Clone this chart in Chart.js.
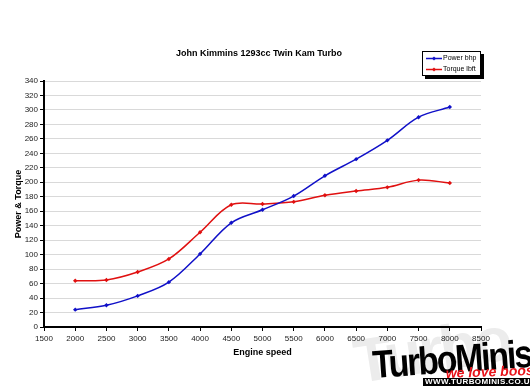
<!DOCTYPE html>
<html>
<head>
<meta charset="utf-8">
<script src="https://cdn.jsdelivr.net/npm/chart.js@4/dist/chart.umd.min.js"></script>
<style>
  html, body { margin: 0; padding: 0; background: #fff; }
  #wrap { position: relative; width: 530px; height: 386px; overflow: hidden; }
  canvas { position: absolute; left: 0; top: 0; }
  .logo { position: absolute; font-family: "Liberation Sans", Arial, sans-serif; white-space: nowrap; transform-origin: left bottom; }
  #ghost { left: 360px; top: 326px; font-size: 62px; font-weight: bold; color: #ececec; letter-spacing: -3px; transform: rotate(-9deg); }
  #brand { left: 374px; top: 345px; font-size: 39px; line-height: 39px; font-weight: bold; color: #000; letter-spacing: -2.5px; transform: rotate(-4deg) scaleX(0.87); }
  #slogan { left: 446px; top: 366px; font-size: 14px; line-height: 14px; font-weight: bold; font-style: italic; color: #e8141b; transform: rotate(-2deg); }
  #url { left: 423px; top: 378px; width: 107px; height: 8px; background: #000; color: #fff; font-size: 8px; font-weight: bold; line-height: 8px; letter-spacing: 0.4px; padding-left: 2px; }
</style>
</head>
<body>
<div id="wrap">
  <div class="logo" id="ghost">Turbo</div>
  <canvas id="chart" width="530" height="386"></canvas>
  <div class="logo" id="brand">TurboMinis</div>
  <div class="logo" id="slogan">we love boost</div>
  <div class="logo" id="url">WWW.TURBOMINIS.CO.UK</div>
</div>
<script>
// Data
const rpm = [2000, 2500, 3000, 3500, 4000, 4500, 5000, 5500, 6000, 6500, 7000, 7500, 8000];
const powerBhp = [24, 30, 43, 62, 101, 144, 162, 181, 209, 232, 258, 290, 304];
const torqueLbft = [64, 65, 76, 94, 131, 169, 170, 173, 182, 188, 193, 203, 199];

const font = '"Liberation Sans", Arial, sans-serif';

function pts(vals){
    return rpm.map((r, i) => ({x: r, y: vals[i]}));
}

// title + legend drawn by hand
const decor = {
    id: 'decor',
    afterDraw(chart){
        const ctx = chart.ctx;
        ctx.save();
        ctx.fillStyle = '#000';
        ctx.font = 'bold 9px ' + font;
        ctx.textAlign = 'center';
        ctx.textBaseline = 'middle';
        ctx.fillText('John Kimmins 1293cc Twin Kam Turbo', 259, 54);

        // legend box
        ctx.fillStyle = '#000';
        ctx.fillRect(425, 54, 59, 25);
        ctx.fillStyle = '#fff';
        ctx.fillRect(422, 51, 59, 25);
        ctx.strokeStyle = '#000';
        ctx.lineWidth = 1;
        ctx.strokeRect(422.5, 51.5, 58, 24);

        const items = [['Power bhp', '#1010c8'], ['Torque lbft', '#e01010']];
        ctx.textAlign = 'left';
        ctx.font = '7px ' + font;
        items.forEach((it, i) => {
            const y = 58.5 + i * 11;
            ctx.strokeStyle = it[1];
            ctx.lineWidth = 1.5;
            ctx.beginPath();
            ctx.moveTo(426, y);
            ctx.lineTo(442, y);
            ctx.stroke();
            ctx.fillStyle = it[1];
            ctx.beginPath();
            ctx.moveTo(434, y - 2); ctx.lineTo(436, y); ctx.lineTo(434, y + 2); ctx.lineTo(432, y);
            ctx.fill();
            ctx.fillStyle = '#000';
            ctx.fillText(it[0], 443, y);
        });
        ctx.restore();
    }
};

new Chart(document.getElementById('chart'), {
    type: 'line',
    data: {
        datasets: [{
            label: 'Power bhp',
            data: pts(powerBhp),
            borderColor: '#1010c8',
            backgroundColor: '#1010c8',
            borderWidth: 1.5,
            tension: 0.35,
            pointStyle: 'rectRot',
            pointRadius: 2.2,
            pointBorderWidth: 0
        }, {
            label: 'Torque lbft',
            data: pts(torqueLbft),
            borderColor: '#e01010',
            backgroundColor: '#e01010',
            borderWidth: 1.5,
            tension: 0.35,
            pointStyle: 'rectRot',
            pointRadius: 2.2,
            pointBorderWidth: 0
        }]
    },
    options: {
        responsive: false,
        animation: false,
        layout: { padding: { top: 81, right: 49, left: 9, bottom: 24 } },
        plugins: {
            legend: { display: false },
            title: { display: false },
            tooltip: { enabled: false }
        },
        scales: {
            x: {
                type: 'linear',
                min: 1500,
                max: 8500,
                ticks: {
                    stepSize: 500, color: '#222', font: { family: font, size: 8 }, padding: 3, maxRotation: 0,
                    callback: v => String(v)
                },
                grid: { drawOnChartArea: false, tickColor: '#000', tickLength: 4 },
                border: { color: '#000', width: 2 },
                title: { display: true, text: 'Engine speed', color: '#000', font: { family: font, size: 9, weight: 'bold' }, padding: { top: 4 } },
                afterFit(scale){ scale.height = 35; }
            },
            y: {
                min: 0,
                max: 340,
                ticks: { stepSize: 20, color: '#222', font: { family: font, size: 8 }, padding: 2 },
                grid: { color: '#d9d9d9', tickColor: '#000', tickLength: 4 },
                border: { color: '#000', width: 2 },
                title: { display: true, text: 'Power & Torque', color: '#000', font: { family: font, size: 9, weight: 'bold' }, padding: { bottom: 2 } },
                afterFit(scale){ scale.width = 35; }
            }
        }
    },
    plugins: [decor]
});
</script>
</body>
</html>
